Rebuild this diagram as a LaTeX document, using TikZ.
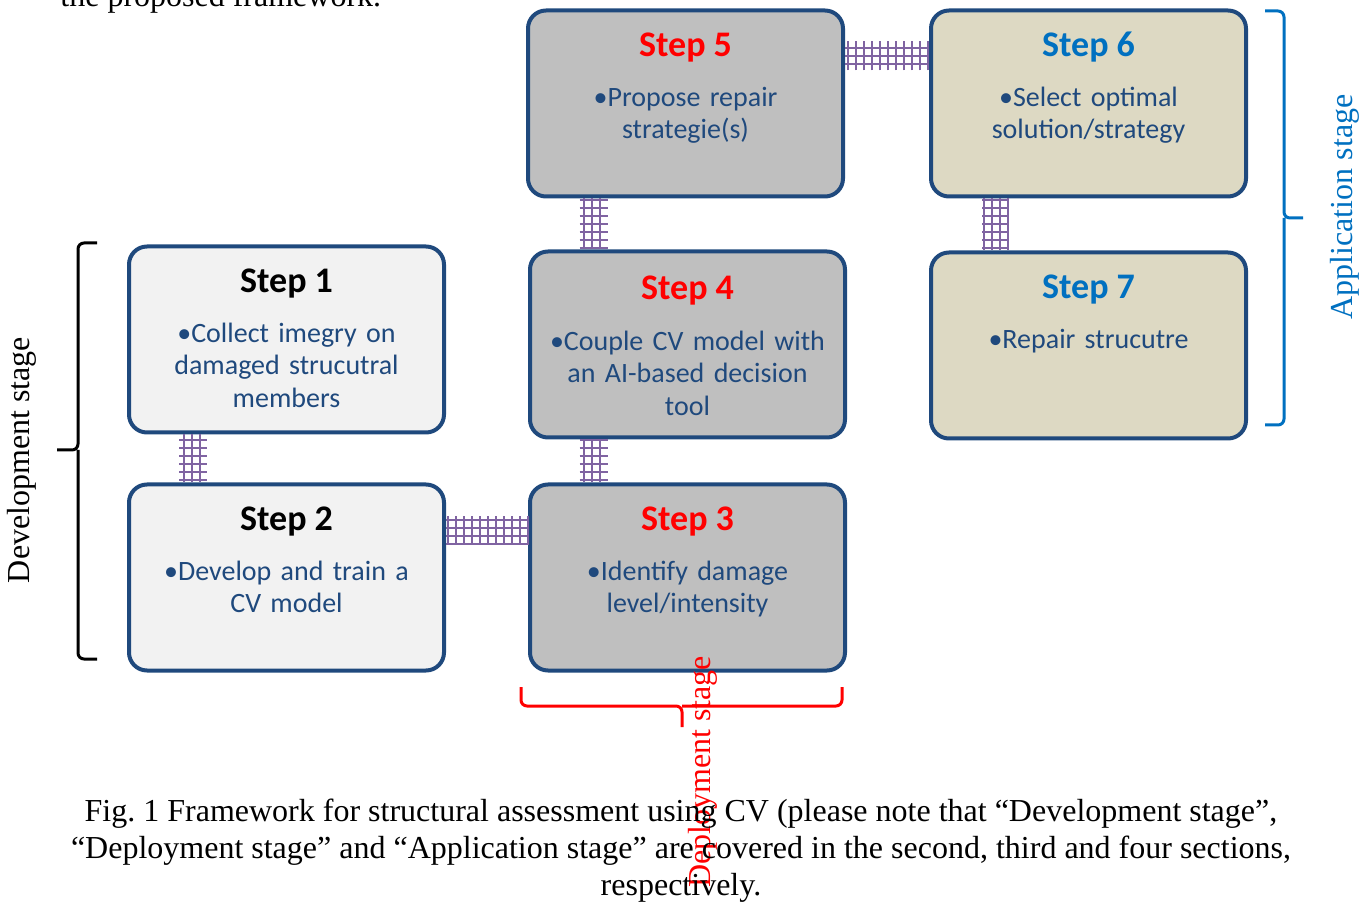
\documentclass[tikz,border=0pt]{standalone}
\usepackage{fontspec}
\setmainfont{Liberation Serif}
\newfontfamily\calibri{Carlito}
\usetikzlibrary{positioning, calc}
\usepackage{xcolor}
\newcommand{\TxtCollect}{•Collect imegry on\\damaged strucutral\\members}
\newcommand{\TxtTrain}{•Develop and train a\\CV model}
\newcommand{\TxtIdentify}{•Identify damage\\level/intensity}
\newcommand{\TxtCouple}{•Couple CV model with\\an AI-based decision\\tool}
\newcommand{\TxtPropose}{•Propose repair\\strategie(s)}
\newcommand{\TxtSelect}{•Select optimal\\solution/strategy}
\newcommand{\TxtRepair}{•Repair strucutre}
\definecolor{boxblue}{HTML}{1F497D}
\definecolor{boxgray}{HTML}{BFBFBF}
\definecolor{boxlight}{HTML}{F2F2F2}
\definecolor{boxtan}{HTML}{DDD9C3}
\definecolor{stepblue}{HTML}{0070C0}
\definecolor{linkpurple}{HTML}{8064A2}

\begin{document}
\begin{tikzpicture}[x=0.5pt, y=-0.5pt,
  stepbox/.style={draw=boxblue, line width=2pt, rounded corners=9pt, minimum width=157.5pt, minimum height=93pt},
  steptitle/.style={anchor=base, font=\calibri\fontsize{18}{20}\selectfont\bfseries},
  stepbody/.style={anchor=base, text=boxblue, align=center, text width=150pt, font=\calibri\fontsize{14}{16.2}\selectfont},
  gridlink/.style={draw=linkpurple, line width=1pt, step=4pt},
  stagebrace/.style={line width=1.5pt, rounded corners=3pt},
  stagelabel/.style={rotate=90, font=\fontsize{16}{18}\selectfont},
  caption/.style={align=center, font=\fontsize{16}{18.5}\selectfont}]
  \useasboundingbox (0,0) rectangle (1371,903);

  \node[anchor=base west, inner sep=0pt, font=\fontsize{16}{18.5}\selectfont] (prev) at (60,7) {the proposed framework.};

  \node[stepbox, fill=boxlight]                    (s2) at (286.5,577.5) {};
  \node[stepbox, fill=boxgray, right=41pt of s2]   (s3) {};
  \node[stepbox, fill=boxgray, above=21.5pt of s3] (s4) {};
  \node[stepbox, fill=boxgray, above=25.5pt of s4, xshift=-1pt] (s5) {};
  \node[stepbox, fill=boxtan, right=42pt of s5]    (s6) {};
  \node[stepbox, fill=boxtan, below=26pt of s6]    (s7) {};
  \node[stepbox, fill=boxlight, above=24pt of s2]  (s1) {};

  \draw[gridlink] ($(s1.south)+(-107.5,0)$) grid ($(s2.north)+(-79.5,0)$);
  \draw[gridlink] ($(s2.east)+(0,-61)$) grid ($(s3.west)+(0,-33)$);
  \draw[gridlink] ($(s4.south)+(-108,0)$) grid ($(s3.north)+(-80,0)$);
  \draw[gridlink] ($(s5.south)+(-106,0)$) grid ($(s4.north)+(-80,0)$);
  \draw[gridlink] ($(s5.east)+(0,-62)$) grid ($(s6.west)+(0,-33)$);
  \draw[gridlink] ($(s6.south)+(-106.5,0)$) grid ($(s7.north)+(-79.5,0)$);

  \node[steptitle]                 (t1) at ([yshift=-24pt]s1.north) {Step 1};
  \node[steptitle]                 (t2) at ([yshift=-24pt]s2.north) {Step 2};
  \node[steptitle, text=red]       (t3) at ([yshift=-24pt]s3.north) {Step 3};
  \node[steptitle, text=red]       (t4) at ([yshift=-25pt]s4.north) {Step 4};
  \node[steptitle, text=red]       (t5) at ([yshift=-24pt]s5.north) {Step 5};
  \node[steptitle, text=stepblue]  (t6) at ([yshift=-24pt]s6.north) {Step 6};
  \node[steptitle, text=stepblue]  (t7) at ([yshift=-24pt]s7.north) {Step 7};

  \node[stepbody] (b1) at ([yshift=-49pt]s1.north) {\TxtCollect};
  \node[stepbody] (b2) at ([yshift=-49pt]s2.north) {\TxtTrain};
  \node[stepbody] (b3) at ([yshift=-49pt]s3.north) {\TxtIdentify};
  \node[stepbody] (b4) at ([yshift=-50.5pt]s4.north) {\TxtCouple};
  \node[stepbody] (b5) at ([yshift=-49pt]s5.north) {\TxtPropose};
  \node[stepbody] (b6) at ([yshift=-49pt]s6.north) {\TxtSelect};
  \node[stepbody] (b7) at ([yshift=-49pt]s7.north) {\TxtRepair};

  \draw[stagebrace] (97,243) -| (78,450) -- (57,450) (78,450) |- (97,659);
  \node[stagelabel] (dev) at (22,460) {Development stage};
  \draw[stagebrace, red] (521,687) |- (682,706) -- (682,727) (682,706) -| (842,687);
  \node[stagelabel, text=red] (dep) at (703,772) {Deployment stage};
  \draw[stagebrace, stepblue] (1265,11) -| (1284,218) -- (1303,218) (1284,218) |- (1265,425);
  \node[stagelabel, text=stepblue] (app) at (1345,207) {Application stage};

  \node[caption] (cap) at (681,851) {Fig.\ 1 Framework for structural assessment using CV (please note that “Development stage”,\\“Deployment stage” and “Application stage” are covered in the second, third and four sections,\\respectively.};
\end{tikzpicture}
\end{document}
